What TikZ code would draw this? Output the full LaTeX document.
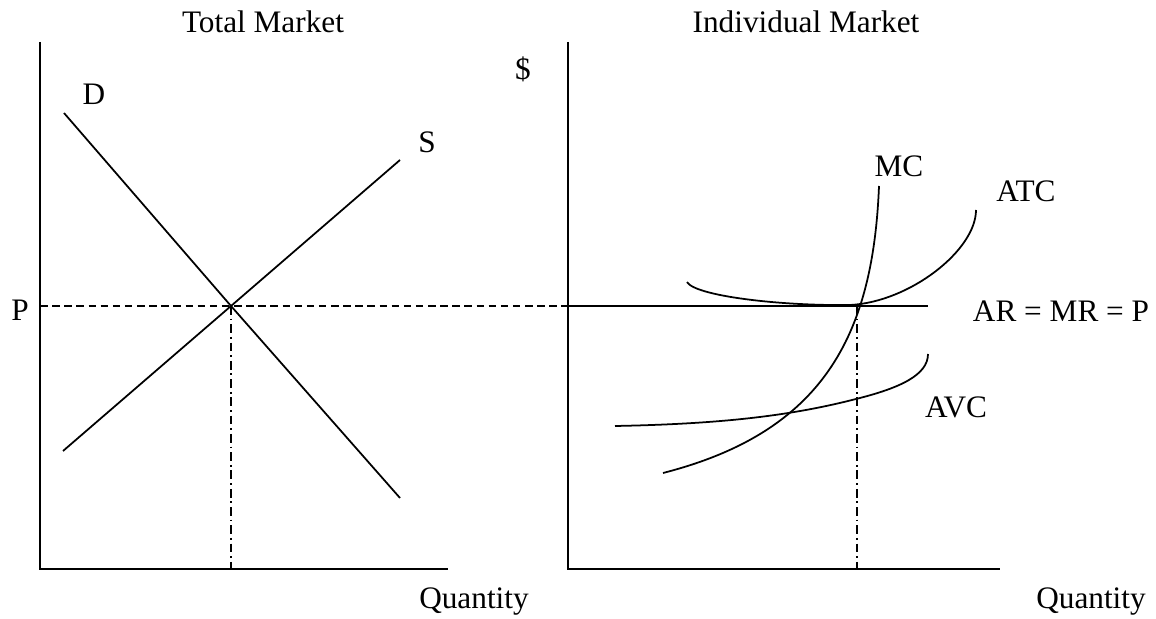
\documentclass[tikz,border=0pt]{standalone}
\usepackage{fontspec}
\setmainfont{Liberation Serif}

\begin{document}
\begin{tikzpicture}[x=0.2mm, y=-0.2mm,
  axis/.style={line width=1.1pt, line join=miter},
  curve/.style={line width=1pt},
  guide/.style={line width=1pt, dash pattern=on 4.3pt off 2.6pt},
  drop/.style={line width=0.9pt, dash pattern=on 5pt off 2.2pt on 1pt off 2.2pt},
  lbl/.style={inner sep=0pt, anchor=base, font=\fontsize{17.8}{21}\selectfont}
]
  \useasboundingbox (0,0) rectangle (1156,619);

  % Punkte der beiden Achsenkreuze
  \coordinate (ltop)   at (40,42);
  \coordinate (lorig)  at (40,569);
  \coordinate (lend)   at (448,569);
  \coordinate (rtop)   at (568,42);
  \coordinate (rorig)  at (568,569);
  \coordinate (rend)   at (1000,569);

  % Gleichgewicht und Preislinie
  \coordinate (eq)     at (231,306);
  \coordinate (eqbase) at (231,569);
  \coordinate (pleft)  at (40,306);
  \coordinate (pmid)   at (568,306);
  \coordinate (pright) at (928,306);
  \coordinate (qi)     at (857,306);
  \coordinate (qibase) at (857,569);

  % Nachfrage und Angebot
  \coordinate (dtop) at (64,113);
  \coordinate (dbot) at (400,498);
  \coordinate (sbot) at (63,451);
  \coordinate (stop) at (400,160);

  % Achsen
  \draw[axis] (ltop) -- (lorig) -- (lend);
  \draw[axis] (rtop) -- (rorig) -- (rend);

  % Markt
  \draw[curve] (dtop) -- (eq) -- (dbot);
  \draw[curve] (sbot) -- (eq) -- (stop);
  \draw[guide] (pleft) -- (pmid);
  \draw[drop] (eq) -- (eqbase);

  % Einzelne Firma
  \draw[curve] (pmid) -- (pright);
  \draw[curve] (663,473) .. controls (823,432) and (873,336) .. (879,186);
  \draw[curve] (687,282) .. controls (695,296) and (780,306) .. (850,305)
                          .. controls (910,302) and (976,250) .. (976,210);
  \draw[curve] (615,426) .. controls (720,424) and (790,416) .. (856,399)
                          .. controls (900,388) and (928,375) .. (928,354);
  \draw[drop] (qi) -- (qibase);

  % Beschriftungen
  \node[lbl] (ttotal) at (263,33)  {Total Market};
  \node[lbl] (tindiv) at (806,33)  {Individual Market};
  \node[lbl] (ld)     at (94,105)  {D};
  \node[lbl] (ls)     at (427,153) {S};
  \node[lbl] (lp)     at (20,321)  {P};
  \node[lbl] (ldol)   at (523,80)  {\$};
  \node[lbl] (lmc)    at (899,177) {MC};
  \node[lbl] (latc)   at (1026,202) {ATC};
  \node[lbl] (lar)    at (1061,322) {AR = MR = P};
  \node[lbl] (lavc)   at (956,418) {AVC};
  \node[lbl] (lq1)    at (474,608) {Quantity};
  \node[lbl] (lq2)    at (1091,608) {Quantity};
\end{tikzpicture}
\end{document}
